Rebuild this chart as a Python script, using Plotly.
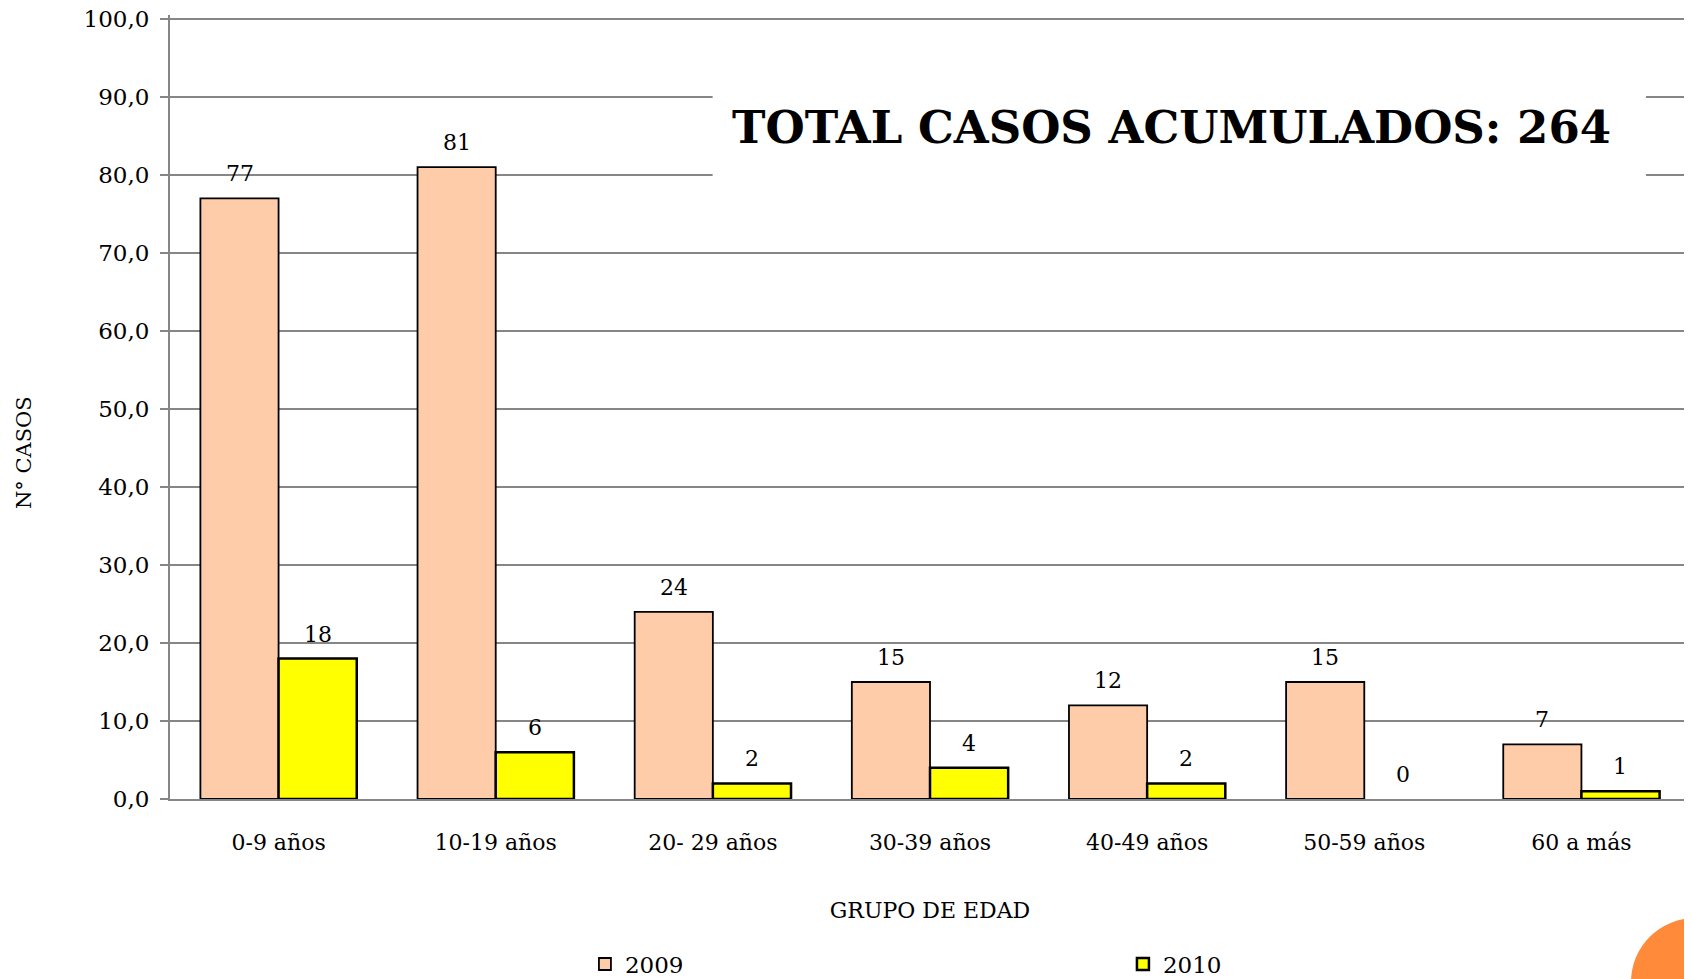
import plotly.graph_objects as go

# datos
grupos = ["0-9 años", "10-19 años", "20- 29 años", "30-39 años", "40-49 años", "50-59 años", "60 a más"]
casos_2009 = [77, 81, 24, 15, 12, 15, 7]
casos_2010 = [18, 6, 2, 4, 2, 0, 1]
y_ticks = [0, 10, 20, 30, 40, 50, 60, 70, 80, 90, 100]

FONT = "DejaVu Serif"
GRID = "#868686"

fig = go.Figure()

fig.add_trace(go.Bar(
    x=grupos, y=casos_2009, name="2009",
    marker=dict(color="#FFCCAA",
                line=dict(color="black", width=[1.8 if v else 0 for v in casos_2009])),
))
fig.add_trace(go.Bar(
    x=grupos, y=casos_2010, name="2010",
    marker=dict(color="#FFFF00",
                line=dict(color="black", width=[2.5 if v else 0 for v in casos_2010])),
))

# etiquetas de valor sobre cada barra
for serie, shift in ((casos_2009, -39), (casos_2010, 39)):
    for g, v in zip(grupos, serie):
        fig.add_annotation(
            x=g, y=v, text=str(v), showarrow=False,
            xshift=shift, yshift=10, xanchor="center", yanchor="bottom",
            font=dict(family=FONT, size=22, color="black"),
        )

# la pagina tiene 8px de margen en el body
fig.update_layout(
    width=1684, height=971,
    margin=dict(l=162, r=2, t=7, b=180, autoexpand=False),
    plot_bgcolor="white", paper_bgcolor="white",
    barmode="group", bargap=0.28, bargroupgap=0,
    separators=",.",
    font=dict(family=FONT, size=22, color="black"),
    showlegend=True,
    legend=dict(
        orientation="h", xref="container", yref="container",
        x=0.3426, y=0.0154, xanchor="left", yanchor="middle",
        entrywidth=493, entrywidthmode="pixels", itemwidth=30,
        bgcolor="rgba(0,0,0,0)",
        font=dict(family=FONT, size=23),
    ),
)

fig.update_xaxes(
    range=[-0.5, 6.5], showgrid=False, showline=True, linecolor=GRID, linewidth=2,
    ticks="", ticklabelstandoff=23,
    tickfont=dict(family=FONT, size=22),
    title=dict(text="GRUPO DE EDAD", font=dict(family=FONT, size=22), standoff=48),
)
fig.update_yaxes(
    range=[0, 100.513], tickvals=y_ticks, tickformat=".1f",
    showgrid=True, gridcolor=GRID, gridwidth=2,
    showline=True, linecolor=GRID, linewidth=2,
    ticks="outside", ticklen=8, tickcolor=GRID, tickwidth=2,
    ticklabelstandoff=6, ticklabeloverflow="allow",
    tickfont=dict(family=FONT, size=23),
    zeroline=False,
)

# caja blanca del total sobre la cuadricula
fig.add_shape(type="rect", xref="paper", yref="paper",
              x0=0.357, x1=0.971, y0=0.7934, y1=0.898,
              fillcolor="white", line=dict(width=0), layer="above")
fig.add_annotation(
    text="<b>TOTAL CASOS ACUMULADOS: 264</b>",
    xref="paper", yref="paper", x=0.659, y=0.8568,
    xanchor="center", yanchor="middle", showarrow=False,
    font=dict(family=FONT, size=45, color="black"),
)

# titulo eje y
fig.add_annotation(
    text="N° CASOS", textangle=-90,
    xref="paper", yref="paper", x=-0.096, y=0.4413,
    xanchor="center", yanchor="middle", showarrow=False,
    font=dict(family=FONT, size=21),
)

# circulo naranja decorativo
fig.add_shape(type="circle", xref="paper", yref="paper",
              x0=0.9612, x1=1.0454, y0=-0.315, y1=-0.1518,
              fillcolor="#FF8A3A", line=dict(width=0), layer="above")

fig.write_html("out.html")
